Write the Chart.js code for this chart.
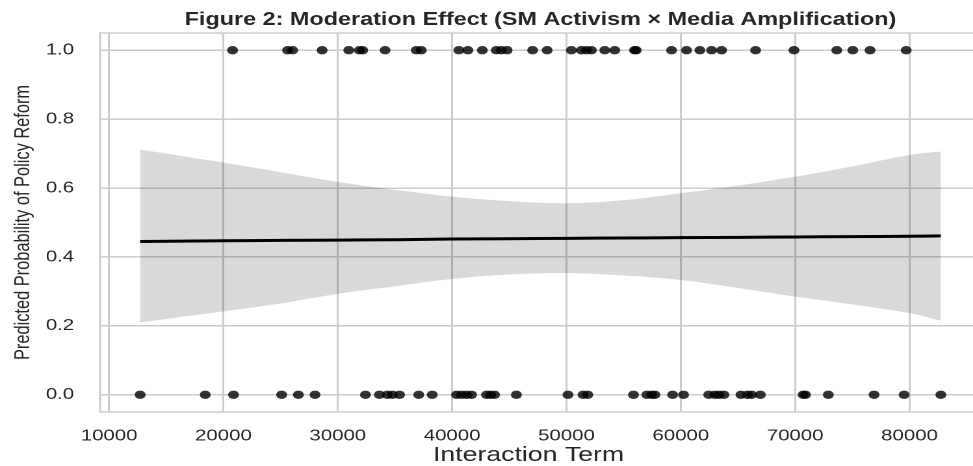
<!DOCTYPE html>
<html>
<head>
<meta charset="utf-8">
<script src="https://cdn.jsdelivr.net/npm/chart.js@4.4.1/dist/chart.umd.min.js"></script>
<style>
  html, body { margin: 0; padding: 0; background: #ffffff; overflow: hidden; width: 973px; height: 466px; }
  #wrap { position: absolute; left: 0; top: 0; width: 760px; height: 466px; transform: scaleX(1.3); transform-origin: 0 0; }
</style>
</head>
<body>
<div id="wrap"><canvas id="c" width="760" height="466"></canvas></div>
<script>
// ---- Data ----
const chartTitle = "Figure 2: Moderation Effect (SM Activism \u00d7 Media Amplification)";
const xAxisTitle = "Interaction Term";
const yAxisTitle = "Predicted Probability of Policy Reform";

const xTickValues = [10000, 20000, 30000, 40000, 50000, 60000, 70000, 80000];
const yTickValues = [0.0, 0.2, 0.4, 0.6, 0.8, 1.0];

// observed cases with policy reform (outcome = 1)
const reformYes = [20800, 25610, 26050, 28630, 30960, 31890, 32180, 34140, 36860, 37300,
  40590, 41380, 42640, 43860, 44300, 44810, 47040, 48310, 50430, 51310, 51740, 52180,
  53350, 54220, 55950, 56100, 59190, 60500, 61670, 62690, 63570, 66540, 69900, 73640,
  75040, 76550, 79710];
// observed cases without policy reform (outcome = 0)
const reformNo = [12715, 18410, 20885, 25090, 26550, 28010, 32420, 33640, 34340, 34780,
  35400, 37080, 38260, 40390, 40830, 41260, 41700, 43010, 43360, 43710, 45620, 50130,
  51450, 51860, 55860, 57030, 57460, 57730, 59280, 60240, 62440, 62980, 63330, 63770,
  65260, 65830, 66190, 66960, 70700, 70900, 72900, 76900, 79530, 82740];

// fitted logistic curve and its confidence band
const curveX   = [12715, 20000, 25000, 30000, 35000, 40000, 45000, 50000, 55000, 60000, 65000, 70000, 75000, 80000, 82740];
const curveFit = [0.445, 0.447, 0.448, 0.449, 0.450, 0.452, 0.453, 0.454, 0.455, 0.456, 0.457, 0.458, 0.459, 0.460, 0.461];
const ciUpper  = [0.712, 0.674, 0.646, 0.618, 0.595, 0.575, 0.562, 0.556, 0.565, 0.585, 0.607, 0.633, 0.663, 0.696, 0.706];
const ciLower  = [0.210, 0.242, 0.265, 0.293, 0.315, 0.336, 0.349, 0.353, 0.346, 0.333, 0.310, 0.285, 0.262, 0.237, 0.215];

const xMin = 9214, xMax = 86241;
const yMin = -0.05, yMax = 1.05;

// ---- Chart ----
const FONT = "'Liberation Sans', Arial, Helvetica, sans-serif";
const TXT = '#262626';
const GRID = '#cccccc';

const frame = {
  id: 'frame',
  afterLayout(chart) {
    // the reference's x-axis label sits slightly left of the plot centre
    const s = chart.scales.x;
    if (s && !s._shifted) {
      const orig = s.drawTitle.bind(s);
      s.drawTitle = function () {
        const ctx = chart.ctx;
        ctx.save();
        ctx.translate(-9.2, 0);
        orig();
        ctx.restore();
      };
      s._shifted = true;
    }
  },
  afterDraw(chart) {
    const a = chart.chartArea, ctx = chart.ctx;
    ctx.save();
    ctx.strokeStyle = GRID;
    ctx.lineWidth = 1.5;
    ctx.strokeRect(a.left, a.top, a.right - a.left, a.bottom - a.top);
    ctx.restore();
  }
};

const pts = (xs, v) => xs.map(x => ({ x: x, y: v }));
const curve = ys => curveX.map((x, i) => ({ x: x, y: ys[i] }));

new Chart(document.getElementById('c'), {
  type: 'scatter',
  data: {
    datasets: [
      { label: 'reform', data: pts(reformYes, 1), order: 0,
        backgroundColor: 'rgba(0,0,0,0.8)', borderWidth: 0, pointRadius: 4.2, pointHoverRadius: 4.2 },
      { label: 'no reform', data: pts(reformNo, 0), order: 0,
        backgroundColor: 'rgba(0,0,0,0.8)', borderWidth: 0, pointRadius: 4.2, pointHoverRadius: 4.2 },
      { label: 'fit', type: 'line', data: curve(curveFit), order: 1,
        borderColor: '#000000', borderWidth: 3, pointRadius: 0, fill: false, tension: 0.3 },
      { label: 'ci upper', type: 'line', data: curve(ciUpper), order: 2,
        borderWidth: 0, borderColor: 'rgba(0,0,0,0)', pointRadius: 0, tension: 0.35,
        fill: '+1', backgroundColor: 'rgba(0,0,0,0.15)' },
      { label: 'ci lower', type: 'line', data: curve(ciLower), order: 3,
        borderWidth: 0, borderColor: 'rgba(0,0,0,0)', pointRadius: 0, tension: 0.35, fill: false }
    ]
  },
  plugins: [frame],
  options: {
    responsive: false,
    animation: false,
    devicePixelRatio: 2,
    layout: { padding: { left: 0, right: 5.5, top: 0, bottom: 0 } },
    plugins: {
      legend: { display: false },
      tooltip: { enabled: false },
      title: {
        display: true, text: chartTitle, fullSize: false, color: TXT,
        font: { family: FONT, size: 18, weight: 'bold' },
        padding: { top: 9.2, bottom: 2.2 }
      }
    },
    scales: {
      x: {
        type: 'linear', position: 'bottom', min: xMin, max: xMax,
        afterBuildTicks: s => { s.ticks = xTickValues.map(v => ({ value: v })); },
        afterFit: s => { s.height = 54; s.paddingLeft = 0; s.paddingRight = 0; },
        grid: { color: GRID, lineWidth: 1.5, drawTicks: false },
        border: { display: false },
        ticks: { color: TXT, font: { family: FONT, size: 15.7 }, padding: 15, maxRotation: 0, autoSkip: false,
                 callback: v => String(v) },
        title: { display: true, text: xAxisTitle, color: TXT, font: { family: FONT, size: 20.5, lineHeight: 1.05 },
                 padding: { top: 0, bottom: 0 } }
      },
      y: {
        type: 'linear', position: 'left', min: yMin, max: yMax,
        afterBuildTicks: s => { s.ticks = yTickValues.map(v => ({ value: v })); },
        afterFit: s => { s.width = 77; },
        grid: { color: GRID, lineWidth: 1.5, drawTicks: false },
        border: { display: false },
        ticks: { color: TXT, font: { family: FONT, size: 15.7 }, padding: 20,
                 callback: v => Number(v).toFixed(1) },
        title: { display: true, text: yAxisTitle, color: TXT, font: { family: FONT, size: 16.4 },
                 padding: { top: 7.9, bottom: 0 } }
      }
    }
  }
});
</script>
</body>
</html>
